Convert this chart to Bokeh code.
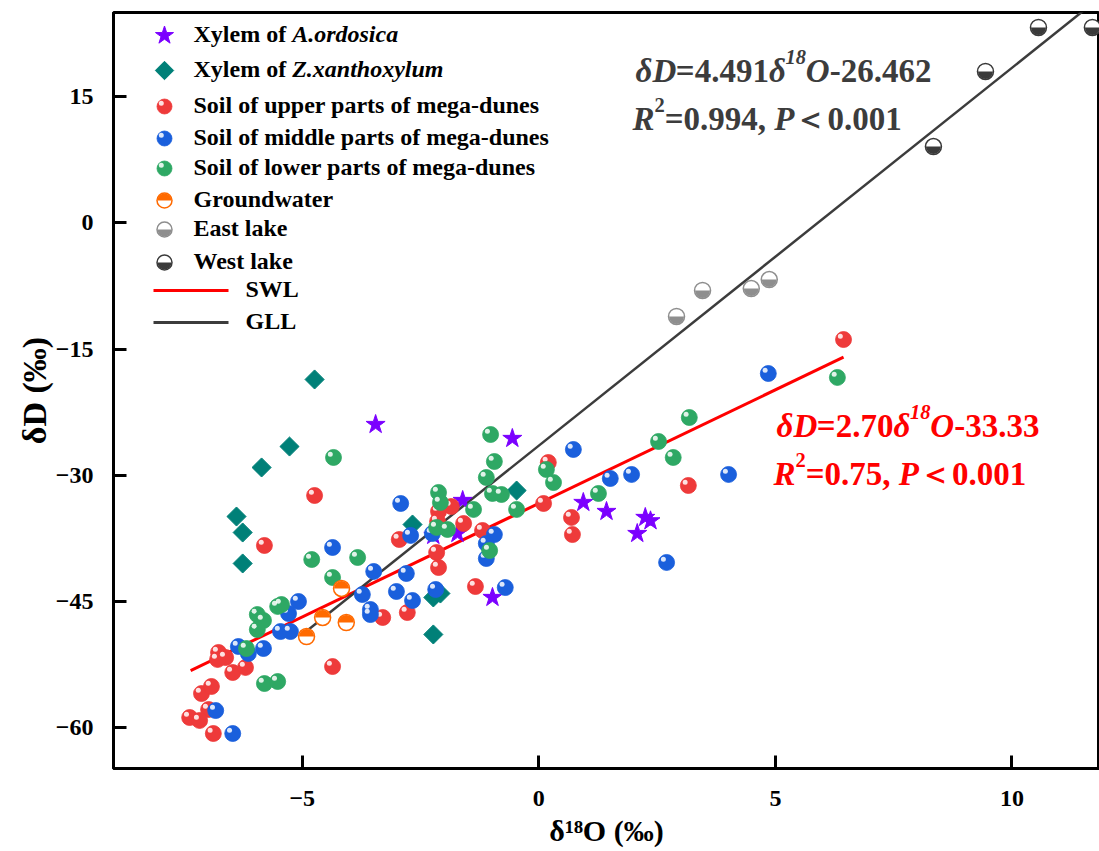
import numpy as np
from bokeh.plotting import figure
from bokeh.models import Range1d, Label, FixedTicker
from bokeh.embed import file_html
from bokeh.resources import INLINE

# ---------------- data ----------------
X_TICKS = [-5, 0, 5, 10]
Y_TICKS = [-60, -45, -30, -15, 0, 15]
X_TITLE = "δ¹⁸O (‰)"
Y_TITLE = "δD (‰)"

# Xylem of A.ordosica (stars)
STAR_X = [-3.45, -0.56, -1.61, -1.72, -2.23, -0.98, 0.94, 1.43, 2.25, 2.36, 2.08]
STAR_Y = [-23.95, -25.61, -32.98, -36.91, -37.14, -44.51, -33.22, -34.29, -35.0, -35.4, -36.91]

# Xylem of Z.xanthoxylum (diamonds)
DIAM_X = [-4.74, -5.27, -5.86, -6.39, -6.26, -6.26, -2.67, -0.47, -2.23, -2.08, -2.23]
DIAM_Y = [-18.60, -26.57, -29.06, -34.89, -36.79, -40.47, -35.84, -31.80, -44.51, -44.04, -48.91]

# Soil of upper parts of mega-dunes (red)
UP_X = [-4.74, -5.80, -2.12, -1.85, -1.59, -2.14, -2.95, -1.19, -2.16, -2.12, -1.34, -2.78,
        -3.30, -4.36, -6.77, -6.62, -6.79, -6.47, -6.20, -7.13, -6.92, -6.98, -7.38, -7.17,
        -6.88, 0.20, 0.10, 0.69, 0.71, 3.16, 6.44]
UP_Y = [-32.39, -38.33, -34.29, -33.70, -35.72, -35.48, -37.62, -36.55, -39.17, -40.95, -43.21, -46.30,
        -46.89, -52.72, -51.05, -51.65, -51.88, -53.43, -52.83, -55.93, -55.09, -57.83, -58.78, -59.13,
        -60.68, -28.47, -33.34, -35.00, -37.03, -31.20, -13.85]

# Soil of middle parts of mega-dunes (blue)
MID_X = [-4.36, -2.92, -2.71, -2.25, -3.49, -2.80, -3.01, -2.67, -2.18, -0.94, -1.11, -1.11,
         -0.71, -3.73, -3.56, -3.56, -5.08, -5.29, -5.46, -5.25, -5.82, -6.35, -6.14, -6.83,
         -6.47, 0.73, 1.51, 1.96, 2.70, 4.85, 4.01]
MID_Y = [-38.57, -33.34, -37.14, -36.91, -41.42, -41.66, -43.80, -44.87, -43.56, -37.03, -38.10, -39.88,
         -43.33, -44.16, -45.94, -46.54, -44.99, -46.42, -48.56, -48.56, -50.58, -50.34, -51.17, -57.95,
         -60.68, -26.92, -30.37, -29.89, -40.35, -17.89, -29.89]

# Soil of lower parts of mega-dunes (green)
LOW_X = [-4.34, -4.80, -3.83, -4.36, -2.12, -2.08, -2.16, -1.93, -1.38, -1.04, -1.02, -0.94,
         -1.11, -0.98, -0.79, -0.47, 0.16, 0.31, 1.26, 2.53, 2.84, 3.18, 6.31, -5.52,
         -5.44, -5.95, -5.82, -5.95, -6.18, -5.80, -5.52]
LOW_Y = [-27.87, -40.00, -39.76, -42.14, -32.03, -33.22, -36.19, -36.43, -34.05, -38.93, -25.14, -28.35,
         -30.25, -32.15, -32.27, -34.05, -29.30, -30.85, -32.15, -25.97, -27.87, -23.12, -18.36, -45.58,
         -45.35, -46.54, -47.25, -48.32, -50.58, -54.74, -54.50]

GW_X = [-4.17, -4.57, -4.07, -4.91]
GW_Y = [-43.44, -46.89, -47.49, -49.15]

EAST_X = [2.91, 3.46, 4.49, 4.87]
EAST_Y = [-11.11, -8.02, -7.79, -6.72]

WEST_X = [8.34, 9.44, 10.56, 11.70]
WEST_Y = [9.09, 18.01, 23.24, 23.24]

# fitted lines (equations printed on the chart)
SWL_SLOPE, SWL_INTERCEPT = 2.70, -33.33
SWL_X = [-7.36, 6.44]
GLL_SLOPE, GLL_INTERCEPT = 4.491, -26.462
GLL_X = [-4.92, 12.5]

LEGEND_LABELS = [
    [("Xylem of ", "bold"), ("A.ordosica", "bold italic")],
    [("Xylem of ", "bold"), ("Z.xanthoxylum", "bold italic")],
    [("Soil of upper parts of mega-dunes", "bold")],
    [("Soil of middle parts of mega-dunes", "bold")],
    [("Soil of lower parts of mega-dunes", "bold")],
    [("Groundwater", "bold")],
    [("East lake", "bold")],
    [("West lake", "bold")],
]
LINE_LABELS = ["SWL", "GLL"]

# ---------------- styling / layout ----------------
FONT = "Liberation Serif"
C_STAR = "#7B00FF"
C_DIAM = "#008078"
C_UP = "#EE3A3A"
C_MID = "#1A5FDC"
C_LOW = "#2EA864"
C_GW = "#FF6A00"
C_EAST = "#8E8E8E"
C_WEST = "#3A3A3A"
C_SWL = "#FF0000"
C_GLL = "#3C3C3C"

W, H = 1099, 851
FRAME_L, FRAME_T, FRAME_B, FRAME_R = 113, 12, 768, 1099
X_MIN, X_MAX = -8.99, 11.85
Y_MIN, Y_MAX = -64.84, 25.02
PX_X = (X_MAX - X_MIN) / (FRAME_R - FRAME_L)
PX_Y = (Y_MAX - Y_MIN) / (FRAME_B - FRAME_T)
LABEL_RAISE = 10  # px correction for label baseline placement


def dx(px):
    return X_MIN + (px - FRAME_L) * PX_X


def dy(py):
    return Y_MAX - (py - FRAME_T) * PX_Y


BOLD_W = {'X': .722, 'y': .5, 'l': .278, 'e': .444, 'm': .833, ' ': .25, 'o': .5, 'f': .333,
          '=': .570, '.': .25, ',': .25, '-': .333, 'δ': .5, 'D': .722, 'O': .778, '(': .333,
          ')': .333, '‰': 1.0, 'R': .722, 'P': .611, '＜': 1.0}
BI_W = {'δ': .5, 'D': .722, 'O': .722, 'R': .667, 'P': .611, '.': .25}


def text_width(s, style):
    table = BI_W if "italic" in style else BOLD_W
    return sum(table.get(ch, 0.5) for ch in s)


p = figure(width=W, height=H, x_range=Range1d(X_MIN, X_MAX), y_range=Range1d(Y_MIN, Y_MAX),
           output_backend="svg", toolbar_location=None,
           min_border_left=FRAME_L, min_border_right=0, min_border_top=FRAME_T,
           min_border_bottom=H - FRAME_B)
p.grid.visible = False
p.outline_line_color = "black"
p.outline_line_width = 3
p.background_fill_color = "white"
p.border_fill_color = "white"

for ax in (p.xaxis[0], p.yaxis[0]):
    ax.axis_line_width = 3
    ax.axis_line_color = "black"
    ax.major_tick_in = 13
    ax.major_tick_out = 0
    ax.major_tick_line_width = 3
    ax.minor_tick_line_color = None
    ax.major_label_text_font = FONT
    ax.major_label_text_font_size = "24px"
    ax.major_label_text_font_style = "bold"
    ax.major_label_text_color = "black"
    ax.axis_label_text_font = FONT
    ax.axis_label_text_font_style = "bold"
    ax.axis_label_text_color = "black"
p.xaxis.ticker = FixedTicker(ticks=X_TICKS)
p.yaxis.ticker = FixedTicker(ticks=Y_TICKS)
p.xaxis.major_label_standoff = 22
p.yaxis.major_label_standoff = 20
p.xaxis.axis_label = X_TITLE
p.xaxis.axis_label_text_font_size = "30px"
p.xaxis.axis_label_standoff = 5
p.yaxis.axis_label = Y_TITLE
p.yaxis.axis_label_text_font_size = "34px"
p.yaxis.axis_label_standoff = 0

HX = -3.2 * PX_X
HY = 3.2 * PX_Y


def sphere(xs, ys, color, size=16):
    p.scatter(xs, ys, marker="circle", size=size, fill_color=color, line_color=color,
              line_width=0.8)
    p.scatter([x + HX for x in xs], [y + HY for y in ys], marker="circle", size=5,
              fill_color="white", fill_alpha=0.85, line_color=None)


def star(xs, ys, size=20):
    p.scatter(xs, ys, marker="star", size=size, fill_color=C_STAR, line_color=C_STAR)


def diamond(xs, ys, size=13.5):
    p.scatter(xs, ys, marker="square", angle=np.pi / 4, size=size, fill_color=C_DIAM,
              line_color=C_DIAM)


def half(xs, ys, color, top_filled, size=16):
    p.scatter(xs, ys, marker="circle", size=size, fill_color="white", line_color=None)
    a0, a1 = (0, np.pi) if top_filled else (np.pi, 2 * np.pi)
    p.wedge(xs, ys, radius=size / 2 - 0.5, radius_units="screen", start_angle=a0, end_angle=a1,
            fill_color=color, line_color=None)
    p.scatter(xs, ys, marker="circle", size=size, fill_color=None, line_color=color,
              line_width=1.5)


# lines
p.line(SWL_X, [SWL_SLOPE * x + SWL_INTERCEPT for x in SWL_X], line_color=C_SWL, line_width=3)
p.line(GLL_X, [GLL_SLOPE * x + GLL_INTERCEPT for x in GLL_X], line_color=C_GLL, line_width=2.5)

# points
star(STAR_X, STAR_Y)
diamond(DIAM_X, DIAM_Y)
sphere(UP_X, UP_Y, C_UP)
sphere(MID_X, MID_Y, C_MID)
sphere(LOW_X, LOW_Y, C_LOW)
half(GW_X, GW_Y, C_GW, True)
half(EAST_X, EAST_Y, C_EAST, False)
half(WEST_X, WEST_Y, C_WEST, False)


def add_pieces(x_px, base_px, pieces, size, color):
    off = 0.0
    for txt, style, sup in pieces:
        fs = size * 0.62 if sup else size
        p.add_layout(Label(x=dx(x_px), y=dy(base_px), x_offset=off,
                           y_offset=(0.40 * size if sup else 0) + LABEL_RAISE, text=txt,
                           text_font=FONT, text_font_size=f"{fs:.1f}px", text_font_style=style,
                           text_color=color, text_baseline="alphabetic", text_align="left"))
        off += text_width(txt, style) * fs


# legend (drawn with the same marker helpers)
ROW_Y = [35, 70, 106, 138, 168, 200, 229, 262]
MK_X = 164
TXT_X = 193
LEG_FS = 24
star([dx(MK_X)], [dy(ROW_Y[0])], size=19)
diamond([dx(MK_X)], [dy(ROW_Y[1])], size=13)
sphere([dx(MK_X)], [dy(ROW_Y[2])], C_UP, size=15)
sphere([dx(MK_X)], [dy(ROW_Y[3])], C_MID, size=15)
sphere([dx(MK_X)], [dy(ROW_Y[4])], C_LOW, size=15)
half([dx(MK_X)], [dy(ROW_Y[5])], C_GW, True, size=15)
half([dx(MK_X)], [dy(ROW_Y[6])], C_EAST, False, size=15)
half([dx(MK_X)], [dy(ROW_Y[7])], C_WEST, False, size=15)
for ry, parts in zip(ROW_Y, LEGEND_LABELS):
    add_pieces(TXT_X, ry + 8, [(t, s, False) for t, s in parts], LEG_FS, "black")

LINE_ROW_Y = [290, 322]
for ry, lab, col in zip(LINE_ROW_Y, LINE_LABELS, [C_SWL, C_GLL]):
    p.line([dx(153), dx(228)], [dy(ry), dy(ry)], line_color=col, line_width=3)
    add_pieces(245, ry + 8, [(lab, "bold", False)], LEG_FS, "black")

# equations
EQ_FS = 33
add_pieces(635, 80, [("δD", "bold italic", False), ("=4.491", "bold", False),
                     ("δ", "bold italic", False), ("18", "bold italic", True),
                     ("O", "bold italic", False), ("-26.462", "bold", False)], EQ_FS, C_GLL)
add_pieces(632, 128, [("R", "bold italic", False), ("2", "bold", True),
                      ("=0.994, ", "bold", False), ("P", "bold italic", False),
                      ("＜", "bold", False), ("0.001", "bold", False)], EQ_FS, C_GLL)
add_pieces(776, 435, [("δD", "bold italic", False), ("=2.70", "bold", False),
                      ("δ", "bold italic", False), ("18", "bold italic", True),
                      ("O", "bold italic", False), ("-33.33", "bold", False)], EQ_FS, C_SWL)
add_pieces(773, 483, [("R", "bold italic", False), ("2", "bold", True),
                      ("=0.75, ", "bold", False), ("P", "bold italic", False),
                      ("＜", "bold", False), ("0.001", "bold", False)], EQ_FS, C_SWL)

open("out.html", "w").write(file_html(p, INLINE))
